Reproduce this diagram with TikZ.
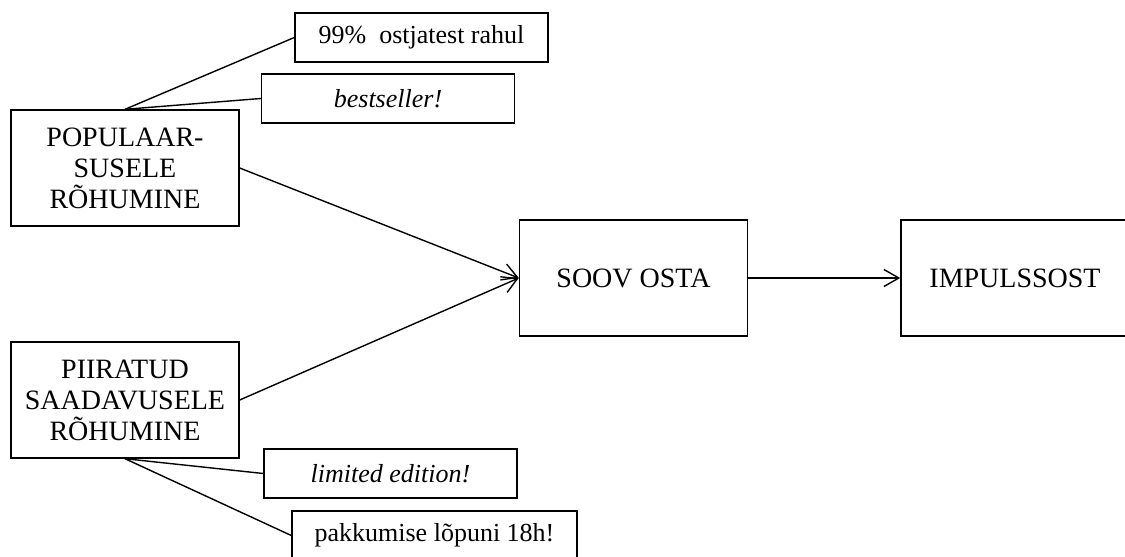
\documentclass[tikz,border=0pt]{standalone}
\usepackage{fontspec}
\setmainfont{Liberation Serif}
\usetikzlibrary{arrows.meta}
\begin{document}
\begin{tikzpicture}[x=0.5pt,y=-0.5pt,line width=0.7pt,
	stagebox/.style={draw,align=center,inner sep=0pt,minimum width=114pt,minimum height=58pt,font=\fontsize{14}{15.5}\selectfont},
	tagbox/.style={draw,inner sep=0pt,minimum width=126.5pt,minimum height=24.5pt,font=\fontsize{13}{14}\selectfont},
	pusharrow/.style={-{Straight Barb[length=7.5pt,width=8.5pt]}}]
\useasboundingbox (0,0) rectangle (1125,557);
\clip (0,0) rectangle (1125,557);
\node[stagebox](pop) at (125,168) {POPULAAR-\\SUSELE\\RÕHUMINE};
\node[stagebox](piir) at (125,400) {PIIRATUD\\SAADAVUSELE\\RÕHUMINE};
\node[stagebox](soov) at (633.5,278) {SOOV OSTA};
\node[stagebox](imp) at (1015,278) {IMPULSSOST};
\node[tagbox](rahul) at (421.5,37.5) {99\%\ \ ostjatest rahul};
\node[tagbox](best) at (388,98.5) {\textit{bestseller!}};
\node[tagbox](lim) at (390.5,473.5) {\textit{limited edition!}};
\node[tagbox,minimum width=142.5pt](pakk) at (434.5,535.5) {pakkumise\ lõpuni\ 18h!};
\draw (pop.north) -- (rahul.west);
\draw (pop.north) -- (best.west);
\draw (piir.south) -- (lim.west);
\draw (piir.south) -- (pakk.west);
\draw[pusharrow] (pop.east) -- (soov.west);
\draw[pusharrow] (piir.east) -- (soov.west);
\draw[pusharrow] (soov.east) -- (imp.west);
\end{tikzpicture}
\end{document}
